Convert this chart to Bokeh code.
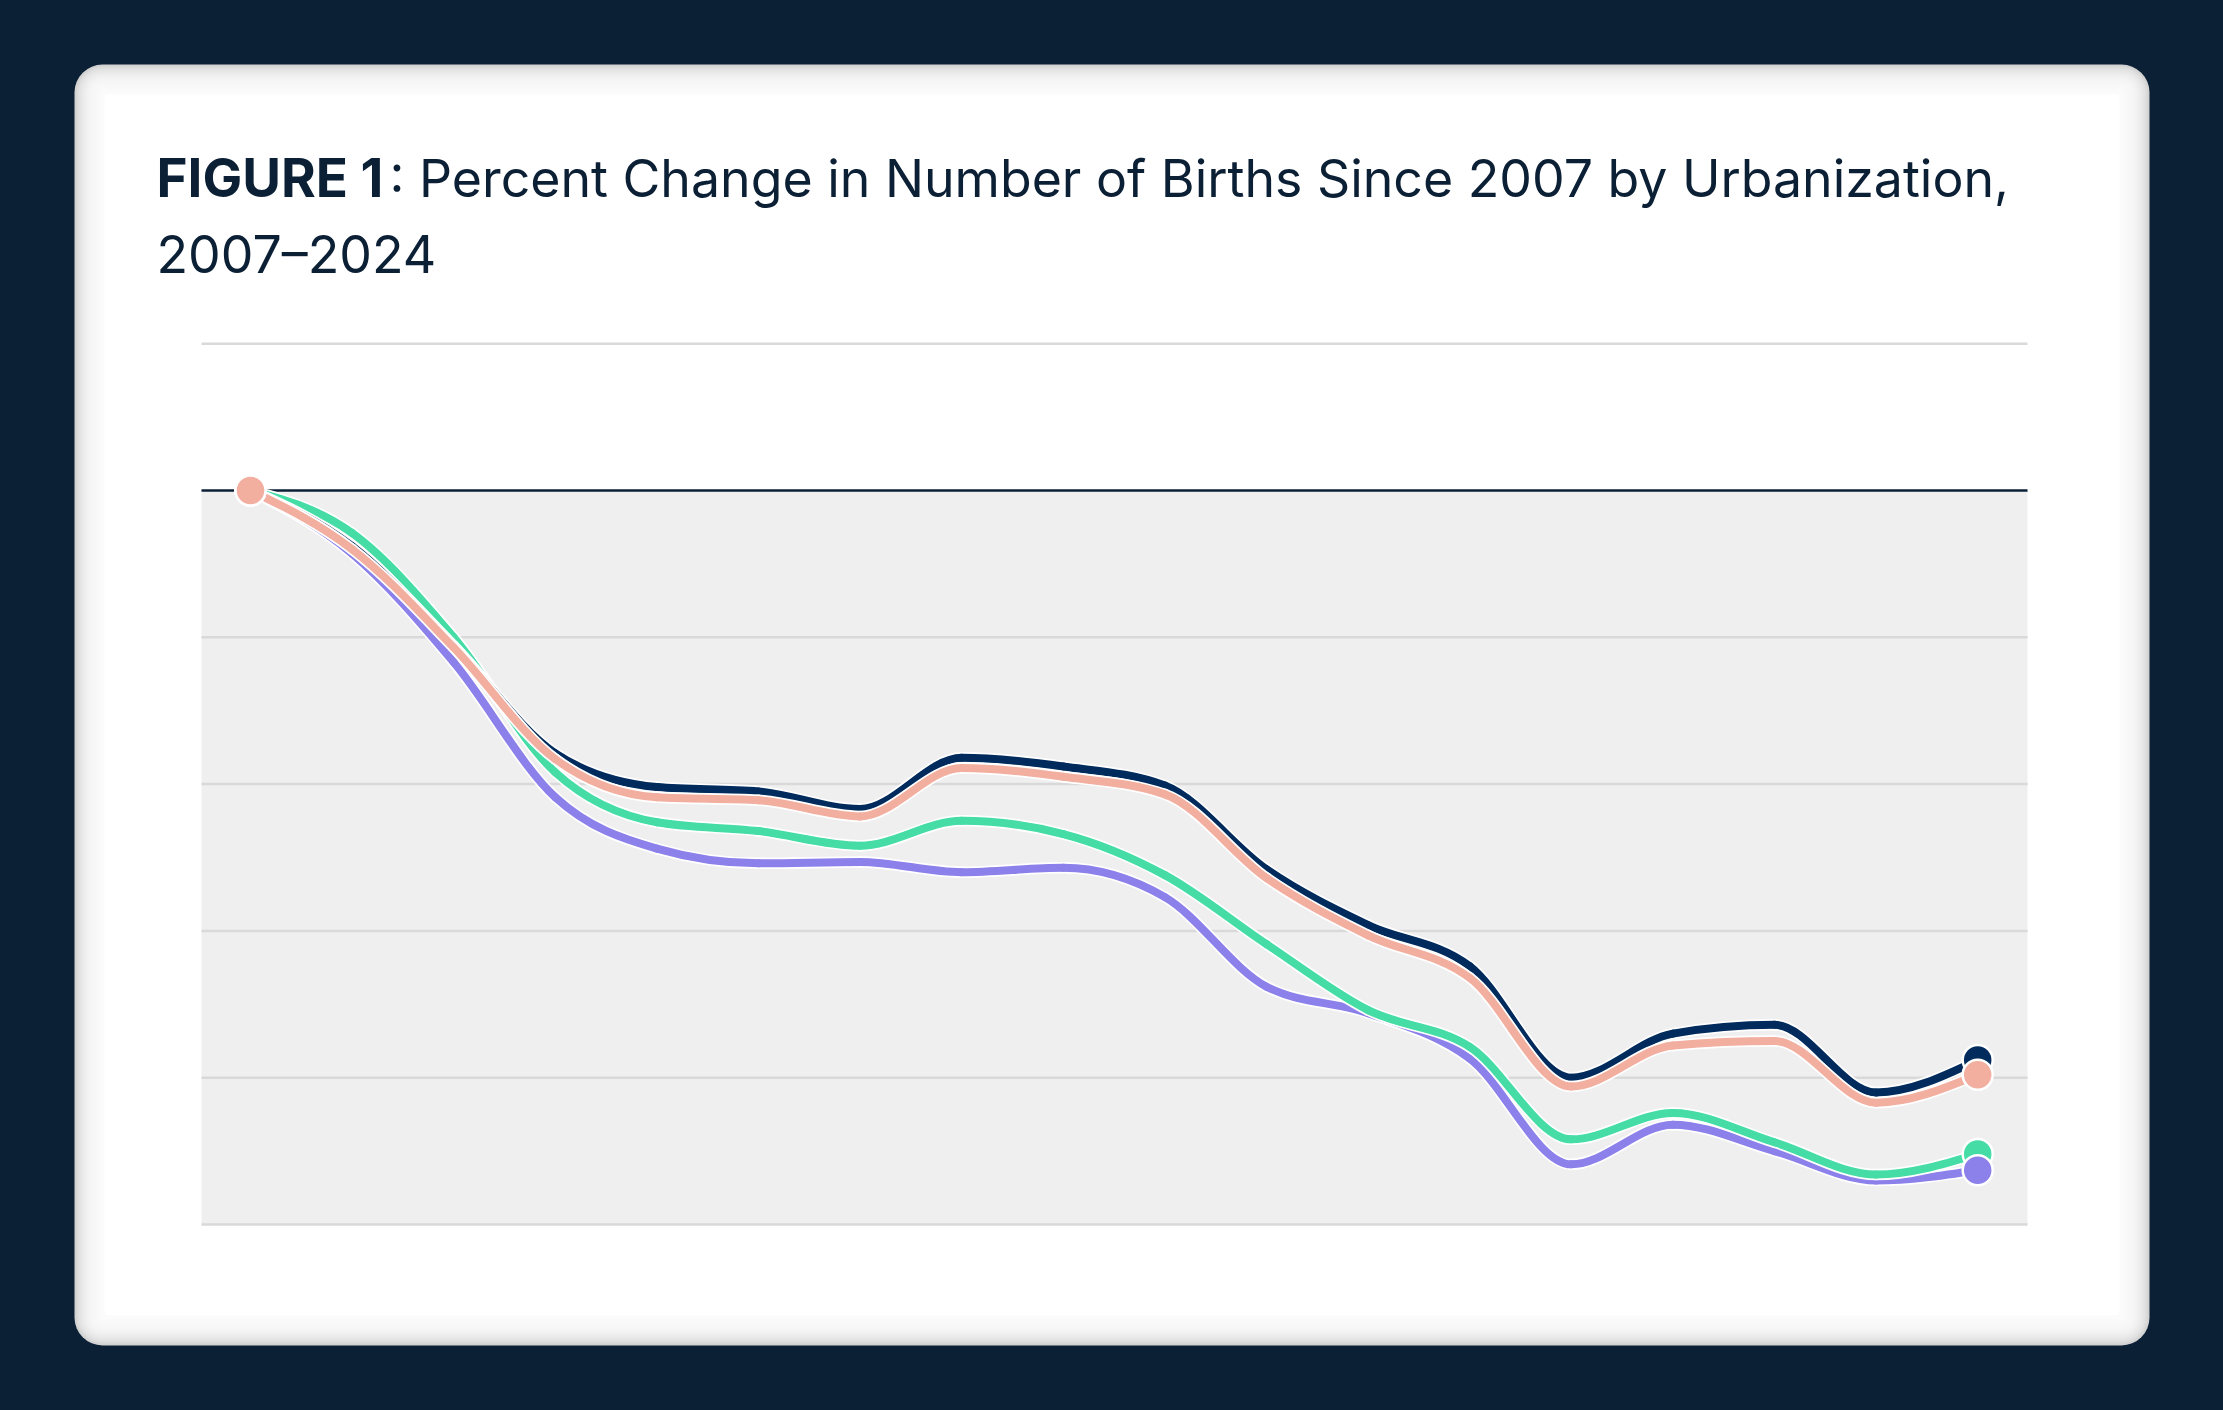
import numpy as np
from bokeh.plotting import figure
from bokeh.models import Range1d, BoxAnnotation, GlobalInlineStyleSheet
from bokeh.core.properties import value
from bokeh.embed import file_html
from bokeh.resources import INLINE

# ---------------- data ----------------
years = list(range(2007, 2025))
navy_vals = [0, -1.9, -5.3, -8.95, -10.1, -10.25, -10.85, -9.1, -9.4, -10.05,
             -12.9, -14.8, -16.2, -20.0, -18.5, -18.2, -20.5, -19.4]
salmon_vals = [0, -2.0, -5.35, -9.15, -10.45, -10.55, -11.1, -9.45, -9.75, -10.35,
               -13.2, -15.15, -16.6, -20.3, -18.9, -18.75, -20.85, -19.9]
green_vals = [0, -1.45, -5.0, -9.6, -11.3, -11.6, -12.1, -11.25, -11.7, -13.1,
              -15.45, -17.7, -18.95, -22.1, -21.2, -22.2, -23.3, -22.6]
purple_vals = [0, -2.15, -5.85, -10.45, -12.2, -12.7, -12.65, -13.0, -12.85, -13.85,
               -16.9, -17.8, -19.35, -22.95, -21.6, -22.5, -23.5, -23.15]
grid_vals = [5, -5, -10, -15, -20, -25]
zero_val = [0]
title_bold = "FIGURE 1"
title_rest = ": Percent Change in Number of Births Since 2007 by Urbanization,"
title_line2 = "2007\u20132024"

# ---------------- styles / layout ----------------
NAVY_BG = "#0b1f35"
TEXT = "#0b1f35"
C_NAVY = "#002b5c"
C_SALMON = "#f2ae9f"
C_GREEN = "#45dca6"
C_PURPLE = "#8c80ea"
GRID = "#d9d9d9"
SHADE = "#efefef"
FONT = "Inter"
FSIZE_BOLD = "53px"
FSIZE = "51.8px"

W, H = 2207, 1394
OX, OY = 0, 0                   # page offset of the canvas
X0_PX, DX_PX = 250.0, 101.6     # page px of 2007, px per year
Y0_PX, DY_PX = 490.0, 29.36     # page px of 0 %, px per 1 %
PLOT_L, PLOT_R = 201, 2027

x_range = Range1d(2007 - (X0_PX - OX) / DX_PX, 2007 + (OX + W - X0_PX) / DX_PX)
y_range = Range1d(-(OY + H - Y0_PX) / DY_PX, (Y0_PX - OY) / DY_PX)

p = figure(width=W, height=H, x_range=x_range, y_range=y_range,
           output_backend="svg", toolbar_location=None, min_border=0,
           background_fill_color=NAVY_BG, border_fill_color=NAVY_BG,
           outline_line_color=None)
p.extra_x_ranges = {"px": Range1d(OX, OX + W)}
p.extra_y_ranges = {"py": Range1d(-(OY + H), -OY)}
p.xaxis.visible = False
p.yaxis.visible = False
p.xgrid.visible = False
p.ygrid.visible = False
p.stylesheets = [GlobalInlineStyleSheet(css="html, body { background: #0b1f35; }")]

# ---------------- card with inner shadow ----------------
CL, CR, CT, CB = 74, 2149, 64, 1345
p.add_layout(BoxAnnotation(left=CL, right=CR, top=-CT, bottom=-CB,
                           x_range_name="px", y_range_name="py",
                           fill_color="#d2d2d2", fill_alpha=1.0, line_color=None,
                           border_radius=28, level="underlay"))
for k in range(1, 15):
    ins = k * 2
    p.add_layout(BoxAnnotation(left=CL + ins, right=CR - ins, top=-(CT + ins), bottom=-(CB - ins),
                               x_range_name="px", y_range_name="py",
                               fill_color="white", fill_alpha=0.2, line_color=None,
                               border_radius=max(28 - ins, 6), level="underlay"))
ins = 30
p.add_layout(BoxAnnotation(left=CL + ins, right=CR - ins, top=-(CT + ins), bottom=-(CB - ins),
                           x_range_name="px", y_range_name="py",
                           fill_color="white", fill_alpha=1.0, line_color=None,
                           border_radius=4, level="underlay"))

# ---------------- title ----------------
p.text(x=[156], y=[-177], text=[title_bold], x_range_name="px", y_range_name="py",
       text_font=value(FONT), text_font_style="bold", text_font_size=FSIZE_BOLD,
       text_color=TEXT, text_baseline="alphabetic", text_align="left")
p.text(x=[389], y=[-177], text=[title_rest], x_range_name="px", y_range_name="py",
       text_font=value(FONT), text_font_style="normal", text_font_size=FSIZE,
       text_color=TEXT, text_baseline="alphabetic", text_align="left")
p.text(x=[156], y=[-253], text=[title_line2], x_range_name="px", y_range_name="py",
       text_font=value(FONT), text_font_style="normal", text_font_size=FSIZE,
       text_color=TEXT, text_baseline="alphabetic", text_align="left")

# ---------------- plot background, grid ----------------
p.quad(left=[PLOT_L], right=[PLOT_R], top=zero_val, bottom=[min(grid_vals)],
       x_range_name="px", fill_color=SHADE, line_color=None)
p.segment(x0=[PLOT_L] * len(grid_vals), x1=[PLOT_R] * len(grid_vals),
          y0=grid_vals, y1=grid_vals, x_range_name="px",
          line_color=GRID, line_width=2.5)
p.segment(x0=[PLOT_L], x1=[PLOT_R], y0=zero_val, y1=zero_val, x_range_name="px",
          line_color=TEXT, line_width=2.5)


# ---------------- smooth lines (monotone cubic as Bezier segments) ----------------
def monotone_tangents(x, y):
    x = np.asarray(x, float)
    y = np.asarray(y, float)
    h = np.diff(x)
    s = np.diff(y) / h
    n = len(x)
    t = np.zeros(n)
    sgn = lambda v: -1.0 if v < 0 else 1.0
    for i in range(1, n - 1):
        s0, s1, h0, h1 = s[i - 1], s[i], h[i - 1], h[i]
        pp = (s0 * h1 + s1 * h0) / (h0 + h1)
        t[i] = (sgn(s0) + sgn(s1)) * min(abs(s0), abs(s1), 0.5 * abs(pp))
    t[0] = (3 * s[0] - t[1]) / 2
    t[-1] = (3 * s[-1] - t[-2]) / 2
    return t


def draw_series(xv, yv, color):
    x = np.asarray(xv, float)
    y = np.asarray(yv, float)
    t = monotone_tangents(x, y)
    h = np.diff(x)
    x0, x1 = x[:-1], x[1:]
    y0, y1 = y[:-1], y[1:]
    cx0 = x0 + h / 3
    cy0 = y0 + t[:-1] * h / 3
    cx1 = x1 - h / 3
    cy1 = y1 - t[1:] * h / 3
    p.bezier(x0=x0, y0=y0, x1=x1, y1=y1, cx0=cx0, cy0=cy0, cx1=cx1, cy1=cy1,
             line_color="white", line_width=11.5, line_cap="round")
    p.bezier(x0=x0, y0=y0, x1=x1, y1=y1, cx0=cx0, cy0=cy0, cx1=cx1, cy1=cy1,
             line_color=color, line_width=8, line_cap="round")


for vals, col in [(purple_vals, C_PURPLE), (green_vals, C_GREEN),
                  (navy_vals, C_NAVY), (salmon_vals, C_SALMON)]:
    draw_series(years, vals, col)

# end-point dots
for vals, col in [(navy_vals, C_NAVY), (green_vals, C_GREEN),
                  (purple_vals, C_PURPLE), (salmon_vals, C_SALMON)]:
    p.scatter(x=[years[0], years[-1]], y=[vals[0], vals[-1]], size=30,
              fill_color=col, line_color="white", line_width=2.5)

open("out.html", "w").write(file_html(p, INLINE))
